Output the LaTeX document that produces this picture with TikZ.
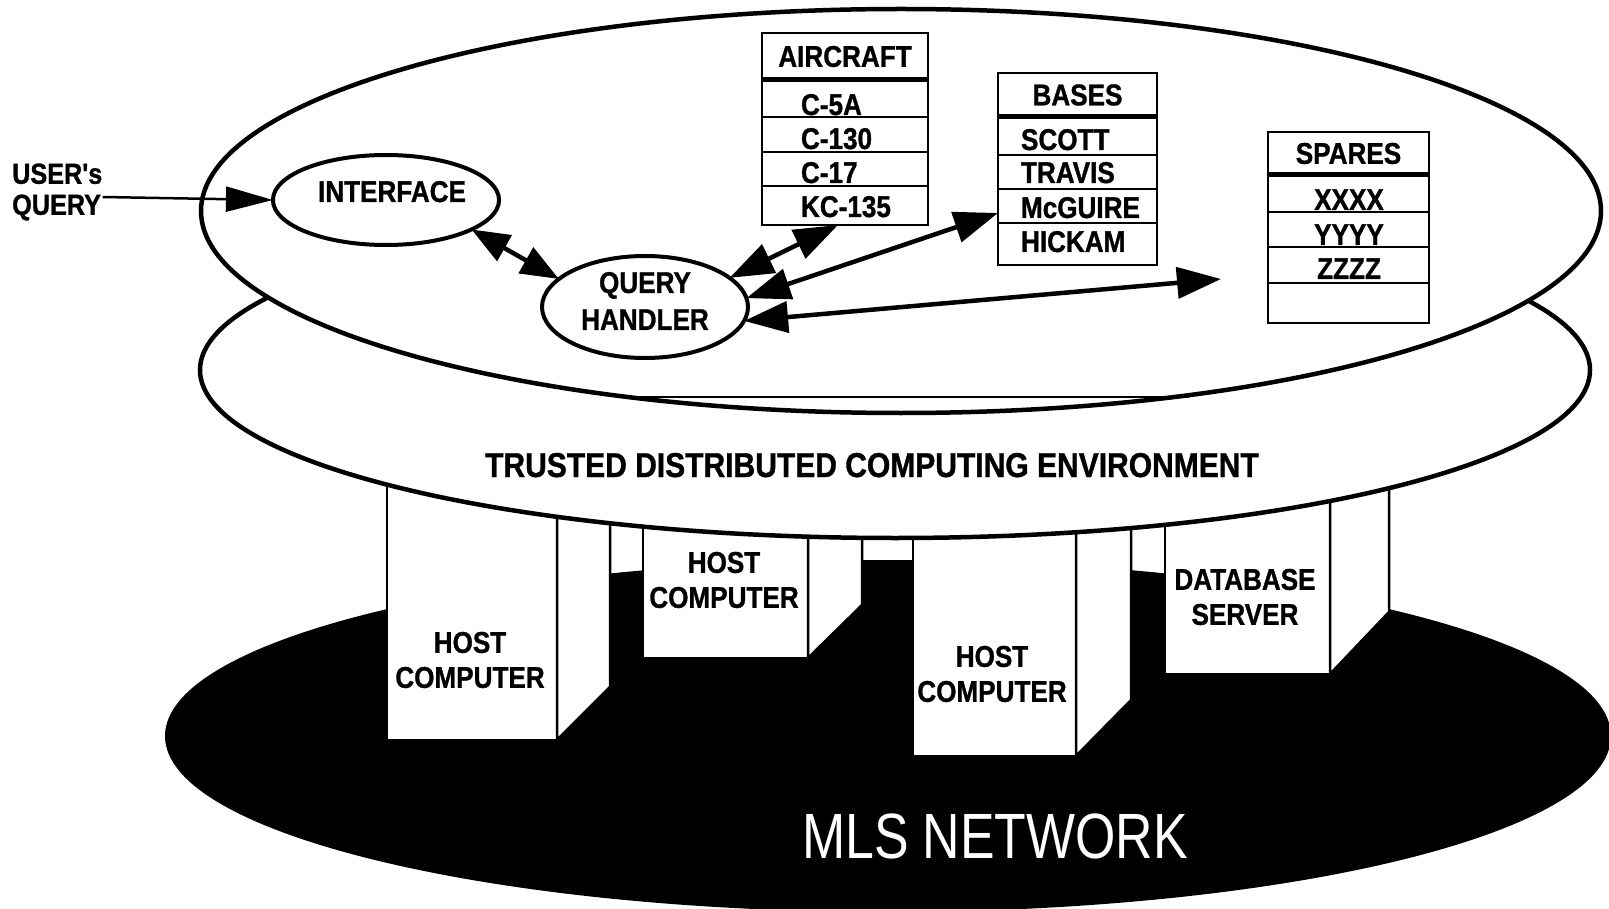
\documentclass[tikz,border=0pt]{standalone}
\usepackage{fontspec}
\usetikzlibrary{shapes.geometric,arrows.meta,calc}
\newfontfamily\condbold{Liberation Sans}[FakeStretch=0.87,FakeBold=1]
\newfontfamily\condreg{Liberation Sans}[FakeStretch=0.81]
\newcommand\fsz[2]{\fontsize{#1}{#2}\selectfont}
\begin{document}
\begin{tikzpicture}[x=1pt,y=-1pt,
  lbl/.style={font=\condbold\bfseries\fsz{30}{35}, inner sep=0pt, outer sep=0pt},
  cell/.style={draw, line width=2.5pt, anchor=north west, inner sep=0pt, outer sep=0pt, font=\condbold\bfseries\fsz{30}{35}},
  ell/.style={draw, ellipse, line width=4pt, inner sep=0pt, outer sep=0pt, font=\condbold\bfseries\fsz{30}{37}, align=center},
  face/.style={draw, fill=white, line width=2.5pt, line join=miter},
  disc/.style={draw, fill=white, line width=4.5pt},
  sep/.style={line width=5pt},
  dbl/.style={line width=4.5pt, {Triangle[length=44pt,width=31pt]}-{Triangle[length=44pt,width=31pt]}},
  dblshort/.style={line width=4.5pt, {Triangle[length=38pt,width=29pt]}-{Triangle[length=38pt,width=29pt]}},
  uarr/.style={line width=2.5pt, -{Triangle[length=47pt,width=25pt]}}
]
\useasboundingbox (0,0) rectangle (1609,909);
\fill[white] (0,0) rectangle (1609,909);
\begin{scope}
\clip (0,0) rectangle (1609,909);
% MLS network (black ellipse)
\fill[black] (888,736) ellipse [x radius=723pt, y radius=176pt];
\end{scope}

% computer boxes
\draw[face] (387,420) rectangle (557,740);
\draw[face] (557,420) -- (610,420) -- (610,687) -- (557,740) -- cycle;
\draw[face] (643,420) rectangle (808,658);
\draw[face] (808,420) -- (862,420) -- (862,605) -- (808,658) -- cycle;
\draw[face] (913,420) rectangle (1076,756);
\draw[face] (1076,420) -- (1131,420) -- (1131,700) -- (1076,756) -- cycle;
\draw[face] (1165,420) rectangle (1330,674);
\draw[face] (1330,420) -- (1389,420) -- (1389,612) -- (1330,674) -- cycle;

\node[lbl, align=center] (hc1) at (470,660) {HOST\\COMPUTER};
\node[lbl, align=center] (hc2) at (724,580) {HOST\\COMPUTER};
\node[lbl, align=center] (hc3) at (992,674) {HOST\\COMPUTER};
\node[lbl, align=center] (dbs) at (1245,597) {DATABASE\\SERVER};

% lower disc (trusted distributed computing environment)
\draw[disc] (895,370) ellipse [x radius=695pt, y radius=168pt];
% upper disc
\draw[disc] (901,211) ellipse [x radius=700pt, y radius=202pt];
\draw[line width=1.2pt] (633,397) -- (1189,397);

\node[font=\condbold\bfseries\fsz{34.5}{40}, inner sep=0pt, anchor=base] (tdce) at (872,477)
  {TRUSTED DISTRIBUTED COMPUTING ENVIRONMENT};

% AIRCRAFT table
\node[cell, minimum width=166pt, minimum height=47pt] (airh) at (762,33) {AIRCRAFT};
\node[cell, minimum width=166pt, minimum height=37pt] (air1) at (762,80) {};
\node[cell, minimum width=166pt, minimum height=35pt] (air2) at (762,117) {};
\node[cell, minimum width=166pt, minimum height=34pt] (air3) at (762,152) {};
\node[cell, minimum width=166pt, minimum height=39pt] (air4) at (762,186) {};
\draw[sep] (airh.south west) -- (airh.south east);
\node[lbl, anchor=base west] (c5a) at (801,115) {C-5A};
\node[lbl, anchor=base west] (c130) at (801,149) {C-130};
\node[lbl, anchor=base west] (c17) at (801,183) {C-17};
\node[lbl, anchor=base west] (kc135) at (801,217) {KC-135};

% BASES table
\node[cell, minimum width=159pt, minimum height=44pt] (bash) at (998,73) {BASES};
\node[cell, minimum width=159pt, minimum height=38pt] (bas1) at (998,117) {};
\node[cell, minimum width=159pt, minimum height=34pt] (bas2) at (998,155) {};
\node[cell, minimum width=159pt, minimum height=34pt] (bas3) at (998,189) {};
\node[cell, minimum width=159pt, minimum height=42pt] (bas4) at (998,223) {};
\draw[sep] (bash.south west) -- (bash.south east);
\node[lbl, anchor=base west] (scott) at (1021,150) {SCOTT};
\node[lbl, anchor=base west] (travis) at (1021,183) {TRAVIS};
\node[lbl, anchor=base west] (mcguire) at (1021,218) {McGUIRE};
\node[lbl, anchor=base west] (hickam) at (1021,252) {HICKAM};

% SPARES table
\node[cell, minimum width=161pt, minimum height=43pt] (sph) at (1268,132) {SPARES};
\node[cell, minimum width=161pt, minimum height=37pt] (sp1) at (1268,175) {};
\node[cell, minimum width=161pt, minimum height=35pt] (sp2) at (1268,212) {};
\node[cell, minimum width=161pt, minimum height=36pt] (sp3) at (1268,247) {};
\node[cell, minimum width=161pt, minimum height=40pt] (sp4) at (1268,283) {};
\draw[sep] (sph.south west) -- (sph.south east);
\node[lbl, anchor=base] (xxxx) at (1349,210) {XXXX};
\node[lbl, anchor=base] (yyyy) at (1349,245) {YYYY};
\node[lbl, anchor=base] (zzzz) at (1349,279) {ZZZZ};

% process ellipses
\node[ell, minimum width=216pt, minimum height=90pt, text height=22pt, text depth=18pt] (if) at (386,200) {\hspace*{12pt}INTERFACE};
\node[ell, minimum width=206pt, minimum height=102pt, text depth=12pt] (qh) at (645,307) {QUERY\\HANDLER};

% user's query
\node[font=\condbold\bfseries\fsz{29}{31}, align=left, inner sep=0pt, anchor=west] (uq) at (12,192) {USER's\\QUERY};
\draw[uarr] ($(uq.east)+(0,5)$) -- (if.west);

% connectors
\coordinate (spa) at (1221,279);
\draw[dblshort] (if.-19) -- (qh.162);
\draw[dbl] (qh.19) -- ([xshift=-7pt]air4.south);
\draw[dbl] (qh.5) -- ([yshift=-7pt]bas3.west);
\draw[dbl] (qh.-8) -- (spa);

% network label
\node[font=\condreg\fsz{64}{70}, text=white, inner sep=0pt, anchor=base] (mls) at (995,858) {MLS NETWORK};
\end{tikzpicture}
\end{document}
